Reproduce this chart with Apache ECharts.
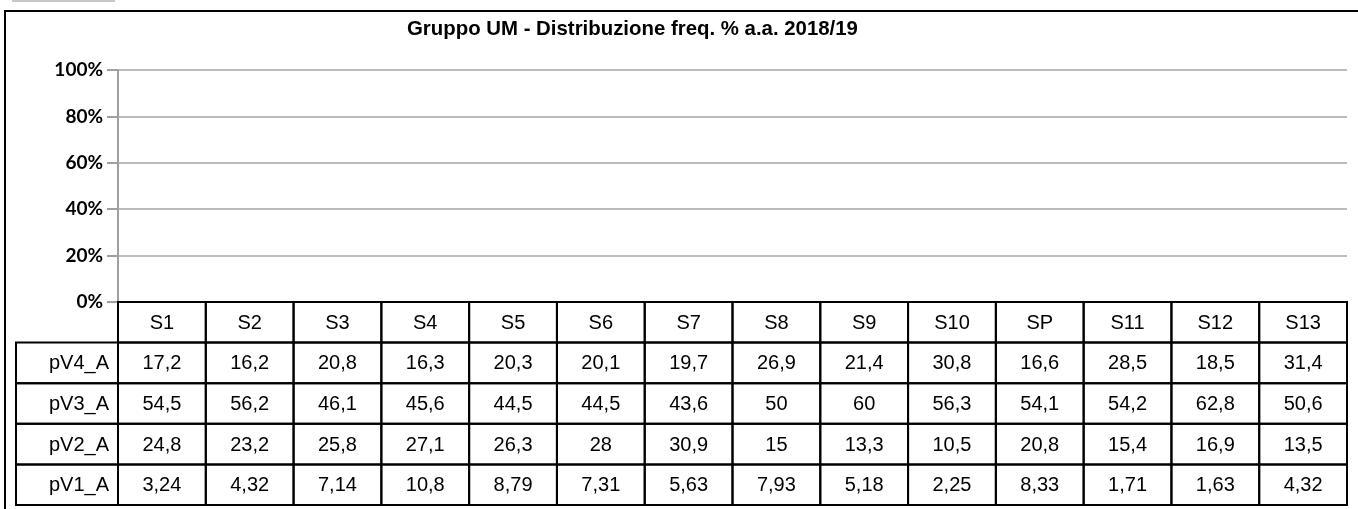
<!DOCTYPE html>
<html>
<head>
<meta charset="utf-8">
<script src="https://cdn.jsdelivr.net/npm/echarts@6/dist/echarts.min.js"></script>
<style>
html, body { margin: 0; padding: 0; background: #fff; }
#chart { width: 1358px; height: 509px; }
</style>
</head>
<body>
<div id="chart"></div>
<script>
var categories = ['S1', 'S2', 'S3', 'S4', 'S5', 'S6', 'S7', 'S8', 'S9', 'S10', 'SP', 'S11', 'S12', 'S13'];
var rowNames = ['pV4_A', 'pV3_A', 'pV2_A', 'pV1_A'];
var pV4_A = [17.2, 16.2, 20.8, 16.3, 20.3, 20.1, 19.7, 26.9, 21.4, 30.8, 16.6, 28.5, 18.5, 31.4];
var pV3_A = [54.5, 56.2, 46.1, 45.6, 44.5, 44.5, 43.6, 50, 60, 56.3, 54.1, 54.2, 62.8, 50.6];
var pV2_A = [24.8, 23.2, 25.8, 27.1, 26.3, 28, 30.9, 15, 13.3, 10.5, 20.8, 15.4, 16.9, 13.5];
var pV1_A = [3.24, 4.32, 7.14, 10.8, 8.79, 7.31, 5.63, 7.93, 5.18, 2.25, 8.33, 1.71, 1.63, 4.32];
var yTicks = [0, 20, 40, 60, 80, 100];

var myChart = echarts.init(document.getElementById('chart'));

// celle della tabella dati: riga 0 = intestazione, righe 1..4 = serie
var rows = [pV4_A, pV3_A, pV2_A, pV1_A];
var cellData = [];
categories.forEach(function (c, i) {
	cellData.push([i, 0, c]);
});
rows.forEach(function (arr, r) {
	arr.forEach(function (v, i) {
		cellData.push([i, r + 1, String(v).replace('.', ',')]);
	});
});
var headData = rowNames.map(function (n, r) {
	return [0, r + 1, n];
});

var cellFont = '20px "Liberation Sans", Arial, sans-serif';
var headW = 102;

function renderCell(params, api) {
	var p = api.coord([api.value(0), api.value(1)]);
	var s = api.size([1, 1]);
	return {
		type: 'group',
		children: [{
			type: 'rect',
			shape: { x: p[0] - s[0] / 2, y: p[1] - s[1] / 2, width: s[0], height: s[1] },
			style: { fill: 'none', stroke: '#000', lineWidth: 2 }
		}, {
			type: 'text',
			x: p[0], y: p[1] + 1,
			style: { text: api.value(2), font: cellFont, fill: '#000', align: 'center', verticalAlign: 'middle' }
		}]
	};
}

function renderHead(params, api) {
	var p = api.coord([api.value(0), api.value(1)]);
	var s = api.size([1, 1]);
	var x0 = params.coordSys.x;
	return {
		type: 'group',
		children: [{
			type: 'rect',
			shape: { x: x0 - headW, y: p[1] - s[1] / 2, width: headW, height: s[1] },
			style: { fill: 'none', stroke: '#000', lineWidth: 2 }
		}, {
			type: 'text',
			x: x0 - 9, y: p[1] + 1,
			style: { text: api.value(2), font: cellFont, fill: '#000', align: 'right', verticalAlign: 'middle' }
		}]
	};
}

var option = {
	animation: false,
	title: {
		text: 'Gruppo UM - Distribuzione freq. % a.a. 2018/19',
		left: 402,
		top: 14,
		textStyle: { fontFamily: '"Liberation Sans", Arial, sans-serif', fontWeight: 'bold', fontSize: 20.4, color: '#000' }
	},
	graphic: [{
		type: 'rect',
		shape: { x: 5, y: 11, width: 1400, height: 520 },
		style: { fill: 'none', stroke: '#000', lineWidth: 2 }
	}, {
		type: 'rect',
		shape: { x: 12, y: 0, width: 103, height: 2 },
		style: { fill: '#c8c8c8' }
	}],
	grid: [
		{ left: 118, top: 70, width: 1229, height: 232 },
		{ left: 118, top: 302, width: 1229, height: 203 }
	],
	xAxis: [
		{ type: 'category', gridIndex: 0, data: categories, show: false },
		{ type: 'category', gridIndex: 1, data: categories, show: false }
	],
	yAxis: [{
		type: 'value',
		gridIndex: 0,
		min: yTicks[0],
		max: yTicks[yTicks.length - 1],
		interval: 20,
		axisLine: { show: true, lineStyle: { color: '#a0a0a0', width: 2 } },
		axisTick: { show: true, length: 11, lineStyle: { color: '#a0a0a0', width: 2 } },
		splitLine: { lineStyle: { color: '#a6a6a6', width: 1.5 } },
		axisLabel: {
			formatter: '{value}%',
			margin: 15,
			color: '#000',
			fontFamily: 'Lato, sans-serif',
			fontWeight: 'bold',
			fontSize: 19,
			padding: [4, 0, 0, 0]
		}
	}, {
		type: 'category',
		gridIndex: 1,
		data: ['', 'pV4_A', 'pV3_A', 'pV2_A', 'pV1_A'],
		inverse: true,
		show: false
	}],
	series: [{
		type: 'custom',
		name: 'tabella',
		xAxisIndex: 1,
		yAxisIndex: 1,
		renderItem: renderCell,
		data: cellData
	}, {
		type: 'custom',
		name: 'righe',
		xAxisIndex: 1,
		yAxisIndex: 1,
		renderItem: renderHead,
		data: headData
	}]
};
myChart.setOption(option);
</script>
</body>
</html>
